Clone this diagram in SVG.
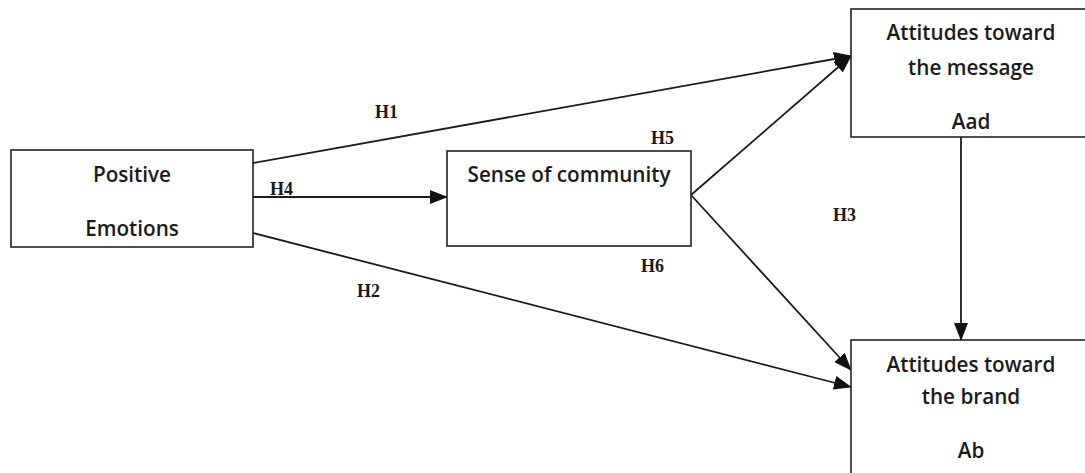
<svg xmlns="http://www.w3.org/2000/svg" width="1085" height="473" viewBox="0 0 1085 473">
<style>
.box{fill:#fff;stroke:#222;stroke-width:1.6}
.t{font-family:"Open Sans","Liberation Sans",sans-serif;font-weight:600;font-size:20.7px;fill:#1a1a1a;text-anchor:middle}
.h{font-family:"Liberation Serif",serif;font-weight:bold;font-size:18px;fill:#1a1a1a}
.c{stroke:#1a1a1a;stroke-width:1.8;fill:none;marker-end:url(#ah)}
</style>
<defs>
<marker id="ah" markerWidth="18" markerHeight="14" refX="17" refY="7" orient="auto" markerUnits="userSpaceOnUse">
<path d="M0,0 L18,7 L0,14 Z" fill="#111"/>
</marker>
</defs>
<rect width="1085" height="473" fill="#fff"/>
<g id="connectors">
<line class="c" x1="253" y1="163" x2="851" y2="56"/>
<line class="c" x1="253" y1="197" x2="447" y2="197"/>
<line class="c" x1="253" y1="233" x2="851" y2="387"/>
<line class="c" x1="691" y1="195" x2="851" y2="56"/>
<line class="c" x1="691" y1="195" x2="851" y2="370"/>
<line class="c" x1="961" y1="137" x2="961" y2="340"/>
<text class="h" x="375" y="118">H1</text>
<text class="h" x="357" y="297">H2</text>
<text class="h" x="833" y="221">H3</text>
<text class="h" x="270" y="195">H4</text>
<text class="h" x="651" y="144">H5</text>
<text class="h" x="641" y="272">H6</text>
</g>
<g id="positive-emotions">
<rect class="box" x="11" y="150" width="242" height="97"/>
<text class="t" x="132" y="182">Positive</text>
<text class="t" x="132" y="236">Emotions</text>
</g>
<g id="sense-of-community">
<rect class="box" x="447" y="151" width="244" height="95"/>
<text class="t" x="569" y="182">Sense of community</text>
</g>
<g id="aad">
<rect class="box" x="851" y="9" width="240" height="128"/>
<text class="t" x="971" y="40">Attitudes toward</text>
<text class="t" x="971" y="75">the message</text>
<text class="t" x="971" y="129">Aad</text>
</g>
<g id="ab">
<rect class="box" x="851" y="340" width="240" height="140"/>
<text class="t" x="971" y="372">Attitudes toward</text>
<text class="t" x="971" y="404">the brand</text>
<text class="t" x="971" y="458">Ab</text>
</g>
</svg>
